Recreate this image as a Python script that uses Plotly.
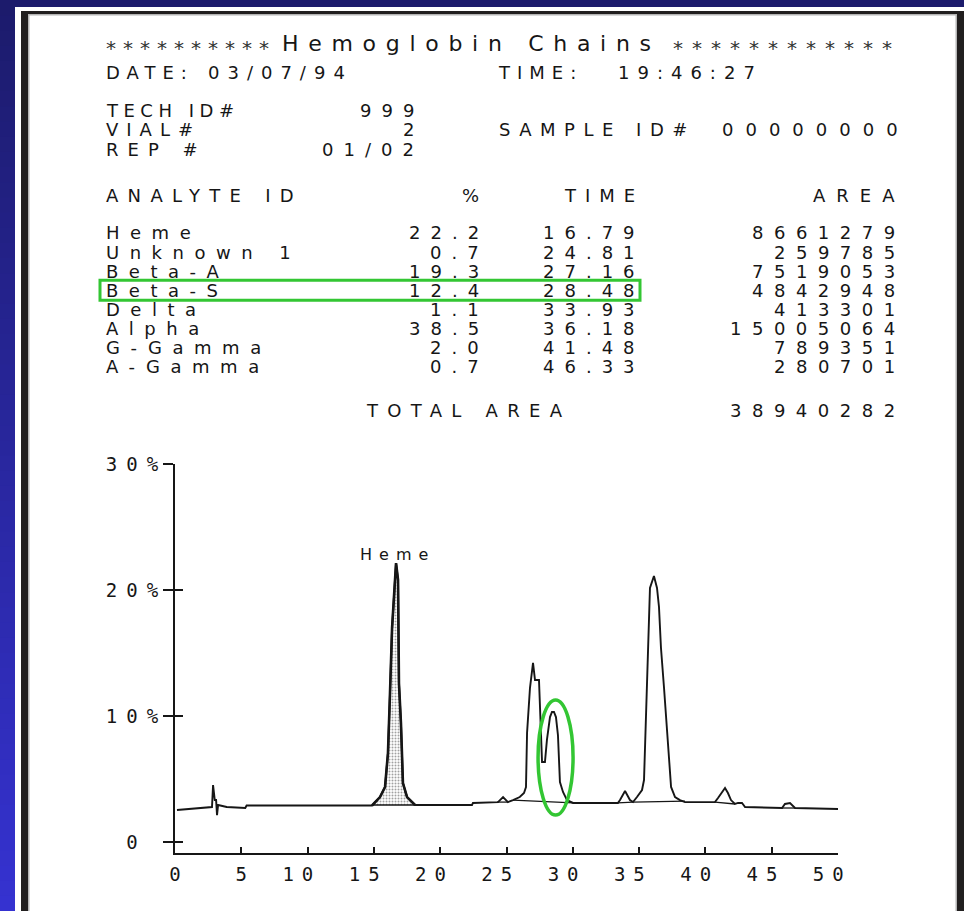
import plotly.graph_objects as go

# ---------------- report data ----------------
analytes = ["Heme", "Unknown 1", "Beta-A", "Beta-S", "Delta", "Alpha", "G-Gamma", "A-Gamma"]
percent = [22.2, 0.7, 19.3, 12.4, 1.1, 38.5, 2.0, 0.7]
ret_time = [16.79, 24.81, 27.16, 28.48, 33.93, 36.18, 41.48, 46.33]
area = [8661279, 259785, 7519053, 4842948, 413301, 15005064, 789351, 280701]
total_area = 38940282

run_date = "03/07/94"
run_time = "19:46:27"
tech_id = "999"
vial = "2"
rep = "01/02"
sample_id = "00000000"

# chromatogram signal (minutes, % of scale)
trace_t = [0.15, 2.79, 2.87, 3.00, 3.10, 3.17, 3.25, 3.90, 5.30, 5.40, 14.86,
           15.46, 15.84, 16.06, 16.21, 16.37, 16.67, 16.82, 16.89, 17.04, 17.19, 17.50, 18.10,
           22.40, 22.47, 24.28, 24.36, 24.74, 25.11, 25.49, 26.00, 26.32, 26.47, 26.55, 26.77,
           27.00, 27.15, 27.45, 27.53, 27.68, 27.90, 28.05, 28.28, 28.43, 28.58, 28.73, 28.88,
           29.03, 29.26, 29.56, 30.02, 33.40, 33.56, 33.94, 34.31, 34.54, 34.84, 35.22, 35.37,
           35.52, 35.75, 35.82, 36.12, 36.35, 36.50, 36.65, 36.88, 37.03, 37.25, 37.41, 37.71,
           38.08, 38.46, 40.72, 40.95, 41.25, 41.48, 41.70, 41.93, 42.23, 42.46, 42.76, 42.99,
           45.78, 46.00, 46.38, 46.76, 50.15]
trace_pct = [2.54, 2.78, 4.52, 3.33, 3.33, 2.14, 2.94, 2.78, 2.70, 2.90, 2.90,
             3.57, 4.37, 7.06, 11.67, 16.98, 22.14, 20.80, 12.60, 9.44, 4.68, 3.57, 2.94,
             2.94, 3.10, 3.17, 3.17, 3.57, 3.17, 3.33, 3.57, 3.89, 4.37, 8.65, 12.22,
             14.21, 12.86, 12.86, 9.92, 6.35, 6.35, 8.10, 9.92, 10.32, 10.32, 9.92, 8.49,
             4.76, 3.97, 3.33, 3.10, 3.10, 3.33, 4.05, 3.33, 3.17, 3.57, 4.13, 4.92,
             9.84, 16.03, 20.16, 21.11, 20.16, 18.65, 15.40, 12.22, 9.92, 6.51, 4.37, 3.57,
             3.33, 3.17, 3.17, 3.49, 3.97, 4.29, 3.89, 3.33, 3.02, 3.10, 3.10, 2.78,
             2.70, 3.02, 3.10, 2.70, 2.62]

# integration baselines drawn under the peaks
base_t = [14.86, 18.10, None, 24.28, 25.11, None, 25.49, 30.02, None,
          33.40, 34.54, None, 34.54, 38.46, None, 40.72, 42.23, None, 45.78, 46.76]
base_pct = [2.94, 2.94, None, 3.17, 3.17, None, 3.33, 3.10, None,
            3.10, 3.17, None, 3.17, 3.25, None, 3.17, 3.02, None, 2.70, 2.70]

x_ticks = [0, 5, 10, 15, 20, 25, 30, 35, 40, 45, 50]
y_ticks = [0, 10, 20, 30]
y_tick_text = ["0\u00a0", "10%", "20%", "30%"]

# ---------------- page geometry ----------------
W, H = 964, 911
INK = "#161616"
GREEN = "#33c633"
TXT_FONT = "DejaVu Sans"
NUM_FONT = "DejaVu Sans Mono"


def X(px):
    return px / W


def Y(py):
    return 1 - py / H


def spaced(s, ls):
    # spacing after every glyph except the last, so anchors stay on the ink
    if len(s) < 2 or ls == 0:
        return s
    return "<span style='letter-spacing:%spx'>%s</span>%s" % (ls, s[:-1], s[-1])


def x_label(v, ls):
    # the printer puts the units digit under the tick mark
    s = str(v)
    return spaced(s + "\u00a0", ls) if len(s) > 1 else s


annotations = []


def put(s, px, py, anchor="left", size=18, ls=9, family=TXT_FONT, color=INK):
    annotations.append(dict(
        text=spaced(s, ls), x=X(px), y=Y(py), xref="paper", yref="paper",
        xanchor=anchor, yanchor="middle", showarrow=False, borderpad=0,
        font=dict(family=family, size=size, color=color)))


# header block
put("**********", 105, 48, size=20, ls=7, color="#333")
put("Hemoglobin Chains", 281, 43, size=22, ls=9.7)
put("************", 893, 48, anchor="right", size=20, ls=9, color="#333")
put("DATE:", 105, 72, size=18, ls=7)
put(run_date, 207, 72, size=18, ls=8)
put("TIME:", 497, 72, size=18, ls=7)
put(run_time, 617, 72, size=18, ls=8)

put("TECH ID#", 105, 111, ls=5.5)
put(tech_id, 415, 111, anchor="right", ls=10)
put("VIAL#", 105, 130, ls=8)
put(vial, 415, 130, anchor="right")
put("SAMPLE ID#", 498, 130, ls=8.5)
put(sample_id, 899, 130, anchor="right", ls=12)
put("REP #", 105, 149, ls=9)
put(rep, 415, 149, anchor="right", ls=10)

put("ANALYTE ID", 105, 195, ls=9.3)
put("%", 480, 195, anchor="right")
put("TIME", 636, 195, anchor="right", ls=9)
put("AREA", 896, 195, anchor="right", ls=11)

ROW0, ROW_PITCH = 233, 19.1
for i, name in enumerate(analytes):
    yy = ROW0 + i * ROW_PITCH
    put(name, 105, yy, ls=10.5)
    put(f"{percent[i]:.1f}", 480, yy, anchor="right", ls=10)
    put(f"{ret_time[i]:.2f}", 636, yy, anchor="right", ls=10)
    put(f"{area[i]}", 896, yy, anchor="right", ls=10.5)

put("TOTAL AREA", 365, 410, ls=9.3)
put(f"{total_area}", 896, 410, anchor="right", ls=10.5)

# peak label
heme_idx = [i for i, t in enumerate(trace_t) if 14.8 <= t <= 18.2]
heme_top = max(trace_pct[i] for i in heme_idx)
annotations.append(dict(
    text=spaced("Heme", 7), x=ret_time[0], y=heme_top, xref="x", yref="y",
    xanchor="center", yanchor="bottom", xshift=-4, yshift=-3, showarrow=False,
    font=dict(family=TXT_FONT, size=16, color=INK)))

# ---------------- shapes: background, frame, highlights ----------------
shapes = []
n_bands = 60
c_top, c_bot = (28, 27, 108), (53, 50, 208)
for k in range(n_bands):
    f = k / (n_bands - 1)
    col = tuple(round(a + (b - a) * f) for a, b in zip(c_top, c_bot))
    shapes.append(dict(type="rect", xref="paper", yref="paper", layer="below",
                       x0=0, x1=1, y0=Y((k + 1) * H / n_bands + 1), y1=Y(k * H / n_bands),
                       line=dict(width=0), fillcolor="rgb(%d,%d,%d)" % col))
shapes.append(dict(type="rect", xref="paper", yref="paper", layer="below",
                   x0=X(15), x1=1, y0=0, y1=Y(7), line=dict(width=0), fillcolor="white"))
frame = [(21, 28, 11, H, "#211f1f"), (21, W, 11, 14, "#211f1f"), (957, W, 11, H, "#211f1f"),
         (28, 29.5, 14, H, "#b4b4b4"), (28, 957, 14, 15.5, "#b4b4b4"), (955.5, 957, 14, H, "#b4b4b4")]
for x0, x1, y0, y1, col in frame:
    shapes.append(dict(type="rect", xref="paper", yref="paper", layer="below",
                       x0=X(x0), x1=X(x1), y0=Y(y1), y1=Y(y0),
                       line=dict(width=0), fillcolor=col))

# box round the Beta-S row
beta_s_row = ROW0 + analytes.index("Beta-S") * ROW_PITCH
shapes.append(dict(type="rect", xref="paper", yref="paper", layer="above",
                   x0=X(100), x1=X(640), y0=Y(beta_s_row + 10), y1=Y(beta_s_row - 10),
                   line=dict(color=GREEN, width=3)))
# ellipse round the Beta-S peak
shapes.append(dict(type="circle", xref="x", yref="y", layer="above",
                   x0=27.38, x1=30.02, y0=2.14, y1=11.27,
                   line=dict(color=GREEN, width=3.5)))

# ---------------- traces ----------------
fig = go.Figure()
fig.add_trace(go.Scatter(
    x=[trace_t[i] for i in heme_idx], y=[trace_pct[i] for i in heme_idx],
    mode="lines", fill="toself", line=dict(color=INK, width=2.6),
    fillcolor="white",
    fillpattern=dict(shape=".", fgcolor="#444", bgcolor="white", size=3, solidity=0.35),
    hoverinfo="skip", showlegend=False))
fig.add_trace(go.Scatter(x=trace_t, y=trace_pct, mode="lines",
                         line=dict(color=INK, width=1.9), showlegend=False))
fig.add_trace(go.Scatter(x=base_t, y=base_pct, mode="lines",
                         line=dict(color=INK, width=1.3), showlegend=False, hoverinfo="skip"))
# carrier for the inner half of the crossing y ticks
fig.add_trace(go.Scatter(x=[None], y=[None], yaxis="y2", showlegend=False, hoverinfo="skip"))

x_dom = [X(175), X(838)]
y_dom = [Y(853), Y(464)]
y_range = [-0.87, 30]

fig.update_layout(
    width=W, height=H, margin=dict(l=0, r=0, t=0, b=0, autoexpand=False),
    paper_bgcolor="rgb(28,27,108)", plot_bgcolor="rgba(0,0,0,0)",
    showlegend=False, shapes=shapes, annotations=annotations,
    xaxis=dict(domain=x_dom, range=[0, 50], tickvals=x_ticks,
               ticktext=[x_label(v, 8) for v in x_ticks],
               ticks="inside", ticklen=6, tickwidth=2, tickcolor=INK,
               showline=True, linecolor=INK, linewidth=2, showgrid=False, zeroline=False,
               tickfont=dict(family=NUM_FONT, size=19, color=INK),
               ticklabelstandoff=3, fixedrange=True),
    yaxis=dict(domain=y_dom, range=y_range, tickvals=y_ticks,
               ticktext=[spaced(s, 9) for s in y_tick_text],
               ticks="outside", ticklen=10, tickwidth=2, tickcolor=INK,
               showline=True, linecolor=INK, linewidth=2, showgrid=False, zeroline=False,
               tickfont=dict(family=NUM_FONT, size=19, color=INK),
               ticklabelstandoff=1, fixedrange=True),
    yaxis2=dict(domain=y_dom, range=y_range, overlaying="y", anchor="x", side="left",
                tickvals=y_ticks, ticks="inside", ticklen=8, tickwidth=2, tickcolor=INK,
                showticklabels=False, showline=False, showgrid=False, zeroline=False,
                fixedrange=True),
)

# the page itself carries no margin of its own
fig.write_html("out.html",
               post_script="document.body.style.margin='0';document.body.style.overflow='hidden';")
